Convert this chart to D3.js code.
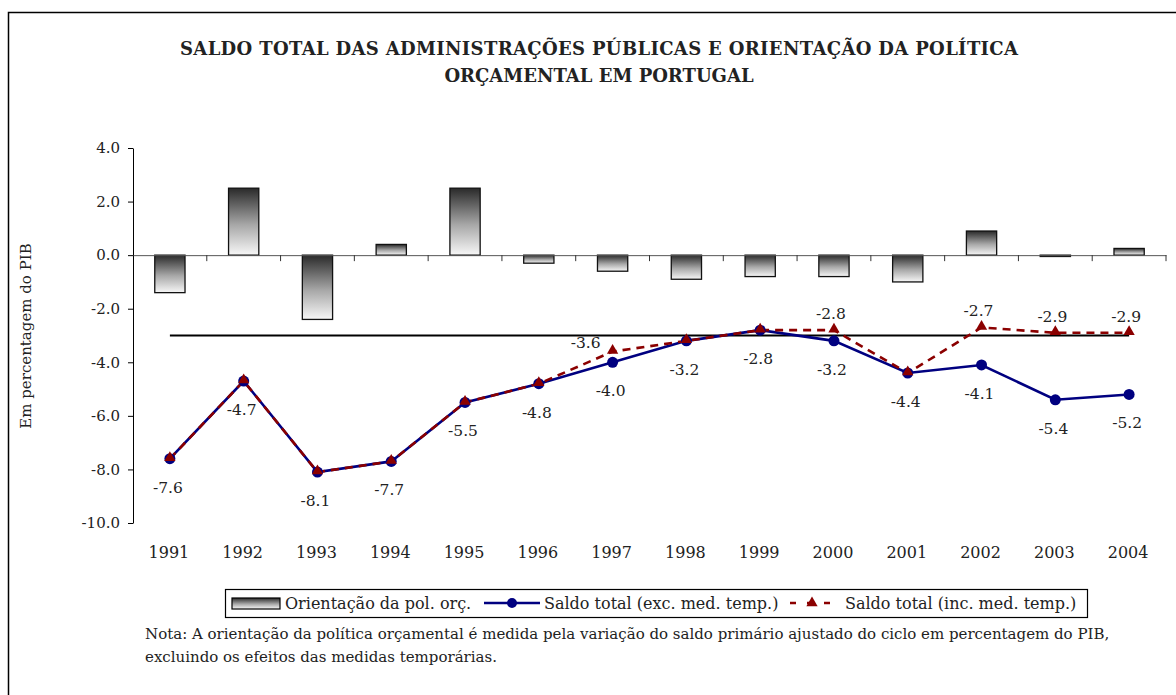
<!DOCTYPE html>
<html>
<head>
<meta charset="utf-8">
<script src="https://cdn.jsdelivr.net/npm/d3@7"></script>
<style>
  body { margin: 0; background: #fff; }
  svg text { font-family: "DejaVu Serif", "Liberation Serif", serif; fill: #222; }
</style>
</head>
<body>
<svg width="1176" height="695"></svg>
<script>
// data
const years = ["1991","1992","1993","1994","1995","1996","1997","1998","1999","2000","2001","2002","2003","2004"];
const orientacao = [-1.4, 2.5, -2.4, 0.4, 2.5, -0.3, -0.6, -0.9, -0.8, -0.8, -1.0, 0.9, -0.05, 0.25];
const saldoExc = [-7.6, -4.7, -8.1, -7.7, -5.5, -4.8, -4.0, -3.2, -2.8, -3.2, -4.4, -4.1, -5.4, -5.2];
const saldoInc = [-7.6, -4.7, -8.1, -7.7, -5.5, -4.8, -3.6, -3.2, -2.8, -2.8, -4.4, -2.7, -2.9, -2.9];
const refLevel = -3.0;
const yTicks = [4, 2, 0, -2, -4, -6, -8, -10];

const fmt = v => v.toFixed(1); // plain hyphen like the original

const svg = d3.select("svg");

// outer frame (runs off the right and bottom edges like the original)
svg.append("rect").attr("x", 8.5).attr("y", 12.5).attr("width", 1200).attr("height", 720)
  .attr("fill", "none").attr("stroke", "#000").attr("stroke-width", 1.5);

// title
svg.append("text").attr("x", 599).attr("y", 55).attr("text-anchor", "middle")
  .style("font-weight", "bold").style("font-size", "18px").attr("textLength", 838)
  .text("SALDO TOTAL DAS ADMINISTRAÇÕES PÚBLICAS E ORIENTAÇÃO DA POLÍTICA");
svg.append("text").attr("x", 599).attr("y", 82).attr("text-anchor", "middle")
  .style("font-weight", "bold").style("font-size", "18px")
  .text("ORÇAMENTAL EM PORTUGAL");

const x = d3.scaleBand().domain(years).range([133, 1166]).padding(0);
const bw = x.bandwidth();
const cx = d => x(d) + bw / 2;
const y = d3.scaleLinear().domain([-10, 4]).range([523, 148]);

// gradient for bars
const defs = svg.append("defs");
const grad = defs.append("linearGradient").attr("id", "barGrad")
  .attr("x1", 0).attr("y1", 0).attr("x2", 0).attr("y2", 1);
grad.append("stop").attr("offset", "0%").attr("stop-color", "#2a2a2a");
grad.append("stop").attr("offset", "55%").attr("stop-color", "#a8a8a8");
grad.append("stop").attr("offset", "100%").attr("stop-color", "#f7f7f7");

// y axis
const yAxis = svg.append("g").attr("transform", "translate(133,0)")
  .call(d3.axisLeft(y).tickValues(yTicks).tickFormat(fmt).tickSize(5).tickSizeOuter(0));
yAxis.select(".domain").attr("stroke", "#000");
yAxis.selectAll(".tick line").attr("stroke", "#000");
yAxis.selectAll(".tick text").attr("x", -13).style("font-size", "15px").attr("fill", "#222");

svg.append("text").attr("transform", "translate(31,336) rotate(-90)")
  .attr("text-anchor", "middle").style("font-size", "15px")
  .text("Em percentagem do PIB");

// bars
const barW = bw * 0.41;
svg.append("g").selectAll("rect").data(years).join("rect")
  .attr("x", d => cx(d) - barW / 2)
  .attr("y", (d, i) => y(Math.max(0, orientacao[i])))
  .attr("width", barW)
  .attr("height", (d, i) => Math.abs(y(orientacao[i]) - y(0)))
  .attr("fill", "url(#barGrad)")
  .attr("stroke", "#111").attr("stroke-width", 1.3);

// x axis at zero
const xAxis = svg.append("g").attr("transform", `translate(0,${y(0)})`)
  .call(d3.axisBottom(x).tickSize(0).tickFormat(""));
xAxis.select(".domain").attr("stroke", "#555");
svg.append("g").selectAll("line").data(years.slice(1).concat(["end"])).join("line")
  .attr("x1", d => d === "end" ? 1166 : x(d)).attr("x2", d => d === "end" ? 1166 : x(d))
  .attr("y1", y(0)).attr("y2", y(0) + 6).attr("stroke", "#333");

// category labels
svg.append("g").selectAll("text").data(years).join("text")
  .attr("x", d => cx(d) - 1).attr("y", 558).attr("text-anchor", "middle")
  .style("font-size", "16px").text(d => d);

// reference line at -3
svg.append("line").attr("x1", cx(years[0])).attr("x2", cx(years[years.length - 1]))
  .attr("y1", y(refLevel)).attr("y2", y(refLevel))
  .attr("stroke", "#000").attr("stroke-width", 2.2);

const line = d3.line().x((d, i) => cx(years[i])).y(d => y(d));

// exc. line
svg.append("path").datum(saldoExc).attr("d", line)
  .attr("fill", "none").attr("stroke", "#000080").attr("stroke-width", 2.6);
// inc. line (dashed)
svg.append("path").datum(saldoInc).attr("d", line)
  .attr("fill", "none").attr("stroke", "#8b0000").attr("stroke-width", 2.6)
  .attr("stroke-dasharray", "8,6");

svg.append("g").selectAll("circle").data(saldoExc).join("circle")
  .attr("cx", (d, i) => cx(years[i])).attr("cy", d => y(d)).attr("r", 5.5)
  .attr("fill", "#000080");

const tri = d3.symbol().type(d3.symbolTriangle).size(55);
svg.append("g").selectAll("path").data(saldoInc).join("path")
  .attr("d", tri)
  .attr("transform", (d, i) => `translate(${cx(years[i])},${y(d) - 1})`)
  .attr("fill", "#8b0000");

// data labels: exc below points
svg.append("g").selectAll("text").data(saldoExc).join("text")
  .attr("x", (d, i) => cx(years[i]) - 2).attr("y", d => y(d) + 34)
  .attr("text-anchor", "middle").style("font-size", "15.5px")
  .text(fmt);

// inc labels above points where they differ
const incLab = saldoInc.map((v, i) => ({ v, i })).filter(o => o.v !== saldoExc[o.i]);
svg.append("g").selectAll("text").data(incLab).join("text")
  .attr("x", o => cx(years[o.i]) + (years[o.i] === "1997" ? -27 : -3))
  .attr("y", o => y(o.v) + (years[o.i] === "1997" ? -4 : -11))
  .attr("text-anchor", "middle").style("font-size", "15.5px")
  .text(o => fmt(o.v));

// legend
const lg = svg.append("g");
lg.append("rect").attr("x", 225.5).attr("y", 589.5).attr("width", 862).attr("height", 28)
  .attr("fill", "#fff").attr("stroke", "#000").attr("stroke-width", 1.2);
lg.append("rect").attr("x", 232).attr("y", 598).attr("width", 48).attr("height", 11)
  .attr("fill", "url(#barGrad)").attr("stroke", "#000").attr("stroke-width", 1.2);
lg.append("text").attr("x", 285).attr("y", 609).style("font-size", "16px").text("Orientação da pol. orç.");
lg.append("line").attr("x1", 484).attr("x2", 540).attr("y1", 603).attr("y2", 603)
  .attr("stroke", "#000080").attr("stroke-width", 2.6);
lg.append("circle").attr("cx", 512).attr("cy", 603).attr("r", 5).attr("fill", "#000080");
lg.append("text").attr("x", 544).attr("y", 609).style("font-size", "16px").text("Saldo total (exc. med. temp.)");
lg.append("line").attr("x1", 790).attr("x2", 835).attr("y1", 603).attr("y2", 603)
  .attr("stroke", "#8b0000").attr("stroke-width", 2.6).attr("stroke-dasharray", "6,11");
lg.append("path").attr("d", tri).attr("transform", "translate(812,603)").attr("fill", "#8b0000");
lg.append("text").attr("x", 845).attr("y", 609).style("font-size", "16px").text("Saldo total (inc. med. temp.)");

// note
svg.append("text").attr("x", 145).attr("y", 639).style("font-size", "15px")
  .text("Nota: A orientação da política orçamental é medida pela variação do saldo primário ajustado do ciclo em percentagem do PIB,");
svg.append("text").attr("x", 145).attr("y", 662).style("font-size", "15px")
  .text("excluindo os efeitos das medidas temporárias.");
</script>
</body>
</html>
